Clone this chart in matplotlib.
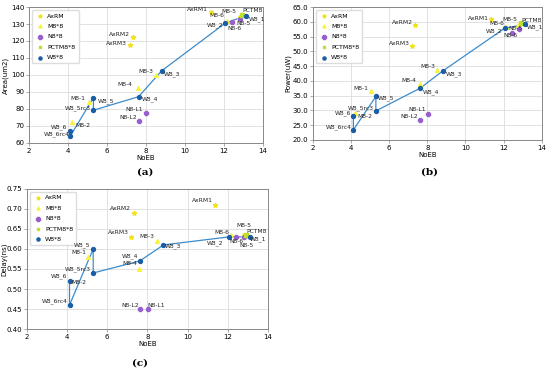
import numpy as np
import matplotlib
matplotlib.use('Agg')
import matplotlib.pyplot as plt

# NoEB per design (same for every metric)
axrm_names = ['AxRM1', 'AxRM2', 'AxRM3']
axrm_noeb = [11.35, 7.35, 7.2]
m8_names = ['M8-1', 'M8-2', 'M8-3', 'M8-4', 'M8-5', 'M8-6']
m8_noeb = [5.05, 4.2, 8.5, 7.6, 12.75, 12.15]
n8_names = ['N8-L1', 'N8-L2', 'N8-5', 'N8-6']
n8_noeb = [8.02, 7.63, 12.8, 12.42]
pctm_names = ['PCTM8']
pctm_noeb = [12.93]
w8_names = ['W8_6', 'W8_6rc4', 'W8_5', 'W8_5rc3', 'W8_4', 'W8_3', 'W8_2', 'W8_1']
w8_noeb = [4.12, 4.12, 5.3, 5.3, 7.62, 8.8, 12.05, 13.12]

# Area (um2)
axrm_area = [137.2, 122.2, 117.6]
m8_area = [84.1, 72.2, 100.0, 92.5, 134.3, 132.0]
n8_area = [77.8, 73.1, 133.0, 131.0]
pctm_area = [135.5]
w8_area = [67.2, 64.1, 86.7, 79.2, 87.2, 102.4, 130.4, 134.9]

# Power (uW)
axrm_power = [60.8, 58.9, 51.8]
m8_power = [36.4, 29.0, 43.7, 39.0, 58.9, 58.3]
n8_power = [28.8, 26.8, 57.6, 56.3]
pctm_power = [59.5]
w8_power = [28.1, 23.4, 34.7, 29.8, 37.5, 43.3, 57.8, 59.1]

# Delay (ns)
axrm_delay = [0.71, 0.69, 0.63]
m8_delay = [0.58, 0.52, 0.62, 0.55, 0.635, 0.635]
n8_delay = [0.45, 0.45, 0.63, 0.63]
pctm_delay = [0.635]
w8_delay = [0.52, 0.46, 0.60, 0.54, 0.57, 0.61, 0.63, 0.63]

# label offsets in pixels (dx, dy, ha)
R, L = 'right', 'left'
offs_a = {'AxRM1': (-3, 2, R), 'AxRM2': (-3, 3, R), 'AxRM3': (-4, 2, R),
          'M8-1': (-3, 3, R), 'M8-2': (3, -3, L), 'M8-3': (-3, 3, R),
          'M8-4': (-6, 3, R), 'M8-5': (-2, 5, R), 'M8-6': (-3, 5, R),
          'N8-L1': (-3, 3, R), 'N8-L2': (-2, 3, R), 'N8-5': (-3, -5, L),
          'N8-6': (-5, -6, L), 'PCTM8': (0, 4, L),
          'W8_1': (3, -3, L), 'W8_2': (-2, -2, R), 'W8_3': (2, -3, L),
          'W8_4': (3, -2, L), 'W8_5': (4, -4, L), 'W8_5rc3': (-3, 2, R),
          'W8_6': (-3, 3, R), 'W8_6rc4': (-1, 2, R)}
offs_b = {'AxRM1': (-2, 1, R), 'AxRM2': (-2, 3, R), 'AxRM3': (-2, 3, R),
          'M8-1': (-3, 3, R), 'M8-2': (2, -3, L), 'M8-3': (-2, 3, R),
          'M8-4': (-3, 3, R), 'M8-5': (-1, 6, R), 'M8-6': (-2, 3, R),
          'N8-L1': (-2, 4, R), 'N8-L2': (-2, 3, R), 'N8-5': (4, 0, R),
          'N8-6': (-8, -3, L), 'PCTM8': (0, 3, L),
          'W8_1': (2, -3, L), 'W8_2': (-2, -3, R), 'W8_3': (3, -3, L),
          'W8_4': (3, -4, L), 'W8_5': (2, -2, L), 'W8_5rc3': (-2, 3, R),
          'W8_6': (-2, 3, R), 'W8_6rc4': (-2, 3, R)}
offs_c = {'AxRM1': (-2, 4, R), 'AxRM2': (-3, 4, R), 'AxRM3': (-3, 4, R),
          'M8-1': (-2, 4, R), 'M8-2': (0, -2, L), 'M8-3': (-3, 4, R),
          'M8-4': (-2, 5, R), 'M8-5': (-6, 9, L), 'M8-6': (-1, 2, R),
          'N8-L1': (0, 4, L), 'N8-L2': (-1, 4, R), 'N8-5': (-4, -9, L),
          'N8-6': (-7, -5, L), 'PCTM8': (0, 3, L),
          'W8_1': (0, -2, L), 'W8_2': (-5, -6, R), 'W8_3': (1, -1, L),
          'W8_4': (-2, 5, R), 'W8_5': (-3, 4, R), 'W8_5rc3': (-2, 4, R),
          'W8_6': (-2, 5, R), 'W8_6rc4': (-2, 4, R)}

c_axrm = '#f2e11e'
c_m8 = '#f7f23a'
c_n8 = '#9760cc'
c_pctm = '#bfe02c'
c_w8 = '#1b5ea6'
c_line = '#3c8ccb'

plt.rcParams['font.family'] = 'DejaVu Sans'


def panel(ax, axrm, m8, n8, pctm, w8, offs, ylabel, yticks, yfmt, ylab_x):
    ax.plot(w8_noeb, w8, '-', color=c_line, lw=0.9, zorder=2)
    ax.scatter(axrm_noeb, axrm, marker='*', s=9, color=c_axrm, label='AxRM', zorder=3)
    ax.scatter(m8_noeb, m8, marker='^', s=7, color=c_m8, label='M8*8', zorder=3)
    ax.scatter(n8_noeb, n8, marker='P', s=10, color=c_n8, label='N8*8', zorder=3)
    ax.scatter(pctm_noeb, pctm, marker='s', s=7, color=c_pctm, label='PCTM8*8', zorder=3)
    ax.scatter(w8_noeb, w8, marker='o', s=8, color=c_w8, label='W8*8', zorder=4)
    allx = axrm_noeb + m8_noeb + n8_noeb + pctm_noeb + w8_noeb
    ally = axrm + m8 + n8 + pctm + w8
    names = axrm_names + m8_names + n8_names + pctm_names + w8_names
    for x, y, n in zip(allx, ally, names):
        dx, dy, ha = offs[n]
        ax.annotate(n, (x, y), xytext=(dx, dy), textcoords='offset pixels',
                    ha=ha, va='center', fontsize=4.3, color='#222222', zorder=6)
    ax.set_xlim(2, 14)
    ax.set_xticks(np.arange(2, 15, 2))
    ax.set_yticks(yticks)
    ax.set_ylim(yticks[0], yticks[-1])
    ax.set_yticklabels([yfmt.format(v) for v in yticks])
    ax.grid(True, color='#dddddd', lw=0.6)
    ax.set_axisbelow(True)
    ax.set_xlabel('NoEB', fontsize=5, labelpad=1)
    ax.set_ylabel(ylabel, fontsize=5)
    ax.yaxis.set_label_coords(ylab_x, 0.5)
    ax.tick_params(labelsize=5, length=2, width=0.5, pad=1.5, color='#888888')
    for s in ax.spines.values():
        s.set_color('#888888')
        s.set_linewidth(0.7)
    leg = ax.legend(loc='upper left', fontsize=4.5, markerscale=0.8, handletextpad=0.3,
                    handlelength=1.6, labelspacing=0.8, borderpad=0.5, framealpha=1,
                    edgecolor='#dddddd', fancybox=True)
    leg.set_zorder(5)


fig = plt.figure(figsize=(5.5, 3.71), dpi=100)
ax_a = fig.add_axes([0.053, 0.615, 0.425, 0.366])
ax_b = fig.add_axes([0.569, 0.623, 0.416, 0.358])
ax_c = fig.add_axes([0.049, 0.113, 0.438, 0.378])

panel(ax_a, axrm_area, m8_area, n8_area, pctm_area, w8_area, offs_a,
      'Area(um2)', np.arange(60, 141, 10), '{:.0f}', -0.085)
panel(ax_b, axrm_power, m8_power, n8_power, pctm_power, w8_power, offs_b,
      'Power(uW)', np.arange(20, 65.1, 5), '{:.1f}', -0.095)
panel(ax_c, axrm_delay, m8_delay, n8_delay, pctm_delay, w8_delay, offs_c,
      'Delay(ns)', np.arange(0.40, 0.751, 0.05), '{:.2f}', -0.082)

cap = dict(fontsize=7.5, fontweight='bold', family='serif', ha='center', va='center')
fig.text(145 / 550, 1 - 172 / 371, '(a)', **cap)
fig.text(430 / 550, 1 - 172 / 371, '(b)', **cap)
fig.text(140 / 550, 1 - 363 / 371, '(c)', **cap)

fig.savefig('out.png', dpi=100)
